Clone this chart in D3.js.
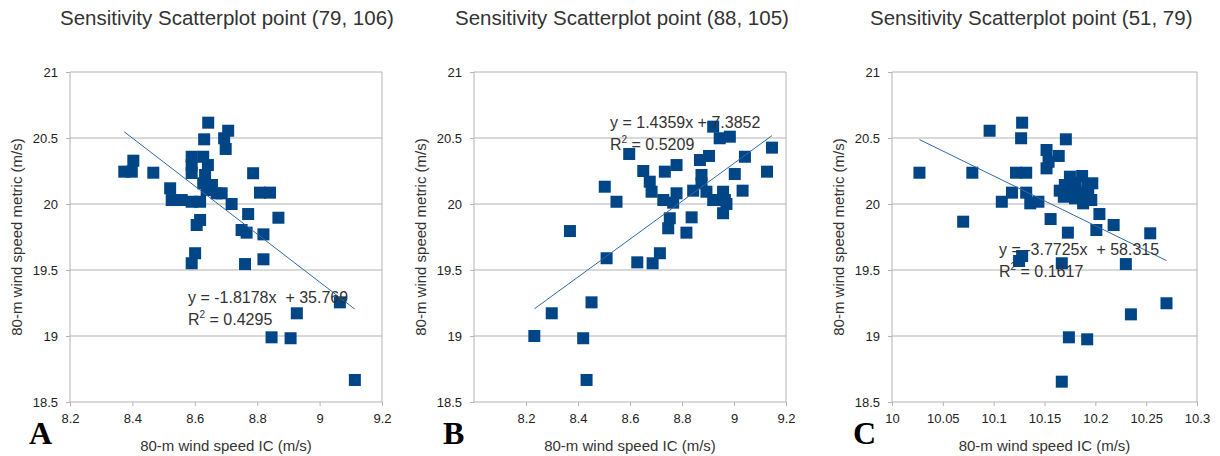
<!DOCTYPE html>
<html>
<head>
<meta charset="utf-8">
<script src="https://cdn.jsdelivr.net/npm/d3@7"></script>
<style>
  body { margin: 0; background: #fff; }
  text { font-family: "Liberation Sans", Arial, sans-serif; }
  text.letter { font-family: "Liberation Serif", "Times New Roman", serif; font-weight: bold; }
</style>
</head>
<body>
<div id="chart"></div>
<script>
const titles = ["Sensitivity Scatterplot point (79, 106)",
                "Sensitivity Scatterplot point (88, 105)",
                "Sensitivity Scatterplot point (51, 79)"];
const letters = ["A", "B", "C"];

const icA = [8.643, 8.707, 8.630, 8.694, 8.699, 8.403, 8.374, 8.398, 8.467, 8.590, 8.590, 8.627, 8.590, 8.633,
             8.627, 8.521, 8.526, 8.558, 8.590, 8.617, 8.638, 8.670, 8.686, 8.718, 8.617, 8.606, 8.601, 8.590,
             8.771, 8.787, 8.809, 8.841, 8.868, 8.750, 8.766, 8.820, 8.761, 8.820, 8.927, 9.065, 8.846, 8.907,
             9.113, 8.655, 8.642];
const metricA = [20.616, 20.555, 20.490, 20.498, 20.417, 20.328, 20.245, 20.245, 20.237, 20.358, 20.295, 20.358, 20.235, 20.220,
                 20.157, 20.119, 20.030, 20.030, 20.017, 20.017, 20.106, 20.081, 20.081, 20.000, 19.879, 19.841, 19.627, 19.551,
                 19.924, 20.233, 20.086, 20.086, 19.896, 19.803, 19.783, 19.770, 19.545, 19.581, 19.172, 19.255, 18.990, 18.983,
                 18.667, 20.144, 20.295];

const icB = [8.920, 8.945, 8.984, 9.146, 8.597, 9.042, 8.869, 8.904, 8.779, 8.734, 8.651, 8.875, 9.003, 9.127,
             8.503, 8.676, 8.683, 8.875, 8.843, 8.779, 8.894, 8.958, 9.033, 8.548, 8.728, 8.766, 8.920, 8.965,
             8.971, 8.958, 8.753, 8.747, 8.837, 8.817, 8.369, 8.510, 8.628, 8.687, 8.715, 8.232, 8.299, 8.452,
             8.420, 8.433];
const metricB = [20.586, 20.498, 20.510, 20.427, 20.379, 20.358, 20.333, 20.364, 20.295, 20.245, 20.250, 20.220, 20.227, 20.245,
                 20.131, 20.169, 20.093, 20.157, 20.101, 20.081, 20.093, 20.093, 20.101, 20.017, 20.030, 20.010, 20.030, 20.030,
                 20.000, 19.930, 19.892, 19.816, 19.899, 19.783, 19.795, 19.589, 19.558, 19.551, 19.627, 19.000, 19.172, 19.255,
                 18.983, 18.667];

const icC = [10.096, 10.128, 10.127, 10.171, 10.152, 10.154, 10.164, 10.152, 10.027, 10.079, 10.122, 10.132, 10.118, 10.132,
             10.108, 10.136, 10.144, 10.204, 10.218, 10.156, 10.070, 10.173, 10.201, 10.254, 10.128, 10.125, 10.167, 10.230,
             10.270, 10.235, 10.174, 10.192, 10.167, 10.175, 10.187, 10.170, 10.180, 10.192, 10.165, 10.175, 10.185, 10.193,
             10.169, 10.180, 10.188, 10.196, 10.197];
const metricC = [20.555, 20.616, 20.498, 20.490, 20.409, 20.320, 20.364, 20.270, 20.237, 20.237, 20.237, 20.237, 20.086, 20.086,
                 20.017, 20.005, 20.017, 19.924, 19.841, 19.886, 19.866, 19.783, 19.803, 19.778, 19.606, 19.568, 19.551, 19.545,
                 19.248, 19.164, 18.990, 18.975, 18.654, 20.207, 20.212, 20.144, 20.161, 20.136, 20.101, 20.093, 20.086, 20.076,
                 20.055, 20.043, 20.005, 20.030, 20.157];

// linear fits as printed on the charts
const slopes = [-1.8178, 1.4359, -3.7725];
const intercepts = [35.769, 7.3852, 58.315];
const eqLabels = ["y = -1.8178x  + 35.769", "y = 1.4359x + 7.3852", "y = -3.7725x  + 58.315"];
const r2Labels = ["0.4295", "0.5209", "0.1617"];

const yTicks = [18.5, 19, 19.5, 20, 20.5, 21];
const xTicksA = [8.2, 8.4, 8.6, 8.8, 9, 9.2];
const xTicksB = [8.2, 8.4, 8.6, 8.8, 9, 9.2];
const xTicksC = [10, 10.05, 10.1, 10.15, 10.2, 10.25, 10.3];
const xDomains = [[8.2, 9.2], [8, 9.2], [10, 10.3]];

const W = 1220, H = 456;
const plotTop = 72, plotBottom = 402;
const blue = "#004586";

// per panel placement
const layout = [
  { left: 70,  right: 382,  titleX: 60,  letterX: 29,  eqX: 188, eqY: 303 },
  { left: 474, right: 786,  titleX: 455, letterX: 443, eqX: 610, eqY: 128 },
  { left: 892, right: 1197, titleX: 870, letterX: 853, eqX: 999, eqY: 255 }
];

const panels = [
  { x: icA, y: metricA, ticks: xTicksA },
  { x: icB, y: metricB, ticks: xTicksB },
  { x: icC, y: metricC, ticks: xTicksC }
];

const svg = d3.select("#chart").append("svg")
  .attr("width", W)
  .attr("height", H);

const fmt = d => String(+d.toFixed(2));

panels.forEach((p, i) => {
  const L = layout[i];
  const x = d3.scaleLinear().domain(xDomains[i]).range([L.left, L.right]);
  const y = d3.scaleLinear().domain([18.5, 21]).range([plotBottom, plotTop]);
  const g = svg.append("g");

  // title
  g.append("text")
    .attr("x", L.titleX)
    .attr("y", 25)
    .attr("font-size", 20.5)
    .attr("fill", "#333")
    .text(titles[i]);

  // y ticks (gridlines drawn separately)
  const yAxis = g.append("g")
    .attr("transform", `translate(${L.left},0)`)
    .call(d3.axisLeft(y).tickValues(yTicks).tickFormat(fmt).tickSize(4).tickPadding(8));
  yAxis.select(".domain").remove();
  yAxis.selectAll("line").attr("stroke", "#b3b3b3");
  yAxis.selectAll("text").attr("font-size", 13).attr("fill", "#222")
    .style("font-family", "Liberation Sans, Arial, sans-serif");

  g.append("g").selectAll("line")
    .data(yTicks)
    .join("line")
    .attr("x1", L.left).attr("x2", L.right)
    .attr("y1", d => y(d)).attr("y2", d => y(d))
    .attr("stroke", "#b3b3b3");

  // frame sides
  g.append("line").attr("x1", L.left).attr("x2", L.left).attr("y1", plotTop).attr("y2", plotBottom).attr("stroke", "#b3b3b3");
  g.append("line").attr("x1", L.right).attr("x2", L.right).attr("y1", plotTop).attr("y2", plotBottom).attr("stroke", "#b3b3b3");

  const xAxis = g.append("g")
    .attr("transform", `translate(0,${plotBottom})`)
    .call(d3.axisBottom(x).tickValues(p.ticks).tickFormat(fmt).tickSize(4).tickPadding(8));
  xAxis.select(".domain").remove();
  xAxis.selectAll("line").attr("stroke", "#b3b3b3");
  xAxis.selectAll("text").attr("font-size", 13).attr("fill", "#222")
    .style("font-family", "Liberation Sans, Arial, sans-serif");

  // axis titles
  g.append("text")
    .attr("x", (L.left + L.right) / 2)
    .attr("y", 451)
    .attr("text-anchor", "middle")
    .attr("font-size", 15)
    .attr("fill", "#333")
    .text("80-m wind speed IC (m/s)");

  g.append("text")
    .attr("transform", `translate(${L.left - 48},${(plotTop + plotBottom) / 2}) rotate(-90)`)
    .attr("text-anchor", "middle")
    .attr("font-size", 15)
    .attr("fill", "#333")
    .text("80-m wind speed metric (m/s)");

  // points
  const pts = p.x.map((v, k) => [v, p.y[k]]);
  const s = 12;
  g.append("g").selectAll("rect")
    .data(pts)
    .join("rect")
    .attr("x", d => x(d[0]) - s / 2)
    .attr("y", d => y(d[1]) - s / 2)
    .attr("width", s)
    .attr("height", s)
    .attr("fill", blue);

  // trend line over the data range
  const [x0, x1] = d3.extent(p.x);
  g.append("line")
    .attr("x1", x(x0)).attr("y1", y(slopes[i] * x0 + intercepts[i]))
    .attr("x2", x(x1)).attr("y2", y(slopes[i] * x1 + intercepts[i]))
    .attr("stroke", "#2f6aa8")
    .attr("stroke-width", 1);

  // equation labels
  g.append("text")
    .attr("x", L.eqX).attr("y", L.eqY)
    .attr("font-size", 16).attr("fill", "#333")
    .style("white-space", "pre")
    .text(eqLabels[i]);
  const r2 = g.append("text")
    .attr("x", L.eqX).attr("y", L.eqY + 22)
    .attr("font-size", 16).attr("fill", "#333");
  r2.append("tspan").text("R");
  r2.append("tspan").attr("font-size", 10).attr("dy", -7).text("2");
  r2.append("tspan").attr("dy", 7).text(" = " + r2Labels[i]);

  // panel letter
  g.append("text")
    .attr("class", "letter")
    .attr("x", L.letterX).attr("y", 444)
    .attr("font-size", 32)
    .attr("fill", "#000")
    .text(letters[i]);
});
</script>
</body>
</html>
